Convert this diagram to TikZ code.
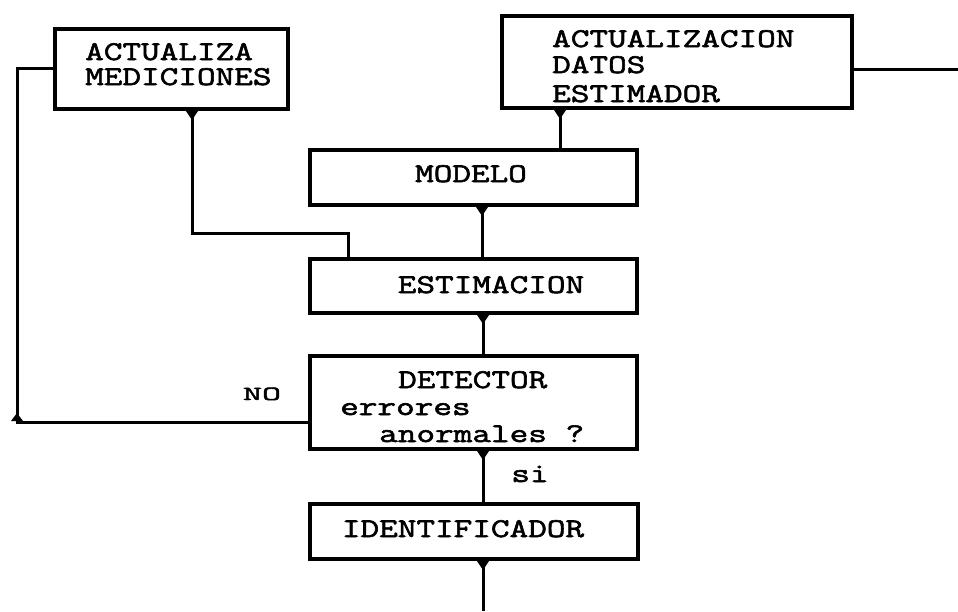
\documentclass[tikz,border=0pt]{standalone}
\usepackage{fontspec}
\newfontfamily\dmfont[FakeBold=2.2, FakeStretch=1.34]{Latin Modern Mono}
\newfontfamily\dmsmallfont[FakeBold=2.4, FakeStretch=1.85]{Latin Modern Mono}
\newcommand{\dmt}[1]{#1}
\newcommand{\dmsmall}[1]{{\dmsmallfont\fontsize{20}{20}\selectfont #1}}
\begin{document}
\begin{tikzpicture}[x=1pt,y=1pt,
  blk/.style={draw, line width=4pt, inner sep=0pt, minimum width=327pt},
  txt/.style={anchor=base west, inner sep=0pt, font=\dmfont\fontsize{27}{27}\selectfont},
  txtc/.style={anchor=base, inner sep=0pt, font=\dmfont\fontsize{27}{27}\selectfont},
  con/.style={line width=3pt},
  tipshape/.style={fill=black}]
\useasboundingbox (0,0) rectangle (958,-611);
\fill[white] (0,0) rectangle (958,-611);
% boxes
\node[blk, minimum width=233pt, minimum height=80pt] (am) at (171.5,-69) {};
\node[blk, minimum width=350pt, minimum height=92pt] (ad) at (677,-62) {};
\node[blk, minimum height=55pt] (mod) at (473.5,-177.5) {};
\node[blk, minimum height=54pt] (est) at (473.5,-286) {};
\node[blk, minimum height=93pt] (det) at (473.5,-402.5) {};
\node[blk, minimum width=328pt, minimum height=55pt] (idf) at (474,-531.5) {};
% texts
\node[txt] (t1) at (85,-60) {\dmt{ACTUALIZA}};
\node[txt] (t2) at (85,-85) {\dmt{MEDICIONES}};
\node[txt] (t3) at (552,-47) {\dmt{ACTUALIZACION}};
\node[txt] (t4) at (552,-73) {\dmt{DATOS}};
\node[txt] (t5) at (552,-102) {\dmt{ESTIMADOR}};
\node[txtc] (t6) at (471,-182) {\dmt{MODELO}};
\node[txtc] (t7) at (491,-293) {\dmt{ESTIMACION}};
\node[txt] (t8) at (398,-388) {\dmt{DETECTOR}};
\node[txt] (t9) at (340,-415) {\dmt{errores}};
\node[txt] (t10) at (379,-442) {\dmt{anormales ?}};
\node[txtc] (t11) at (463,-537) {\dmt{IDENTIFICADOR}};
\node[txtc] (no) at (262,-400) {\dmsmall{NO}};
\node[txtc] (si) at (530,-482) {\dmt{si}};
% connector coordinates
\coordinate (cl) at (17,-422);
\coordinate (re) at (958,-69);
\coordinate (k1) at (192,-233);
\coordinate (k2) at (348,-233);
\coordinate (xa) at (560,0);
\coordinate (xm) at (482,0);
\coordinate (xc) at (483,0);
\coordinate (bot) at (483,-611);
% connectors
\draw[con] (det.west |- cl) -- (cl) |- (am.west |- 0,-68);
\draw[con] (ad.east |- re) -- (re);
\draw[con] (am.south -| k1) -- (k1) -- (k2) -- (est.north -| k2);
\draw[con] (ad.south -| xa) -- (mod.north -| xa);
\draw[con] (mod.south -| xm) -- (est.north -| xm);
\draw[con] (est.south -| xc) -- (det.north -| xc);
\draw[con] (det.south -| xc) -- (idf.north -| xc);
\draw[con] (idf.south -| xc) -- (bot);
% junction tips
\foreach \p in {am.south -| k1, ad.south -| xa, mod.south -| xm, est.south -| xc, det.south -| xc, idf.south -| xc}
  \fill[tipshape] ([xshift=-6pt]\p) -- ([xshift=6pt]\p) -- ([yshift=-9pt]\p) -- cycle;
\fill[tipshape] ([xshift=-6pt,yshift=1pt]cl) -- ([xshift=6pt,yshift=1pt]cl) -- ([yshift=9pt]cl) -- cycle;
\end{tikzpicture}
\end{document}
